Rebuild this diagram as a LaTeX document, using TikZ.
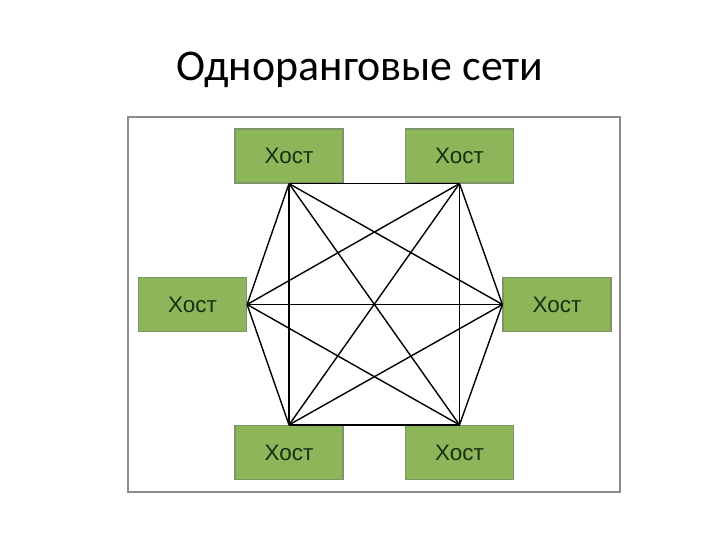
\documentclass[tikz,border=0pt]{standalone}
\usepackage{fontspec}
\setmainfont{Carlito}
\newfontfamily\hostfont{Liberation Sans}
\definecolor{hostgreen}{HTML}{8DB65A}
\definecolor{hostedge}{HTML}{7D9468}
\definecolor{hosttext}{HTML}{1A2E10}
\definecolor{framegray}{HTML}{8C8C8C}

\begin{document}
\begin{tikzpicture}[x=1bp,y=-1bp,
  host/.style={draw=hostedge,fill=hostgreen,line width=1.2bp,
    minimum width=108bp,minimum height=54bp,inner sep=0pt,
    text=hosttext,font=\hostfont\fontsize{22.5}{22.5}\selectfont},
  link/.style={line width=1.4bp,black}]
  \useasboundingbox (0,0) rectangle (720,540);
  \node[font=\fontsize{44}{44}\selectfont] (title) at (360,70) {Одноранговые сети};
  \draw[framegray,line width=1.5bp] (128,117) rectangle (620,492);
  % hosts
  \node[host] (hTL) at (289,156) {Хост};
  \node[host] (hTR) at (459.5,156) {Хост};
  \node[host] (hL)  at (192.5,304.5) {Хост};
  \node[host] (hR)  at (557,304.5) {Хост};
  \node[host] (hBL) at (289,452.5) {Хост};
  \node[host] (hBR) at (459.5,452.5) {Хост};
  % every host linked to every other
  \foreach \a/\b in {hTL.south/hTR.south, hTL.south/hL.east, hTL.south/hR.west,
      hTL.south/hBL.north, hTL.south/hBR.north, hTR.south/hL.east,
      hTR.south/hR.west, hTR.south/hBL.north, hTR.south/hBR.north,
      hL.east/hR.west, hL.east/hBL.north, hL.east/hBR.north,
      hR.west/hBL.north, hR.west/hBR.north, hBL.north/hBR.north}
    \draw[link] (\a) -- (\b);
\end{tikzpicture}
\end{document}
